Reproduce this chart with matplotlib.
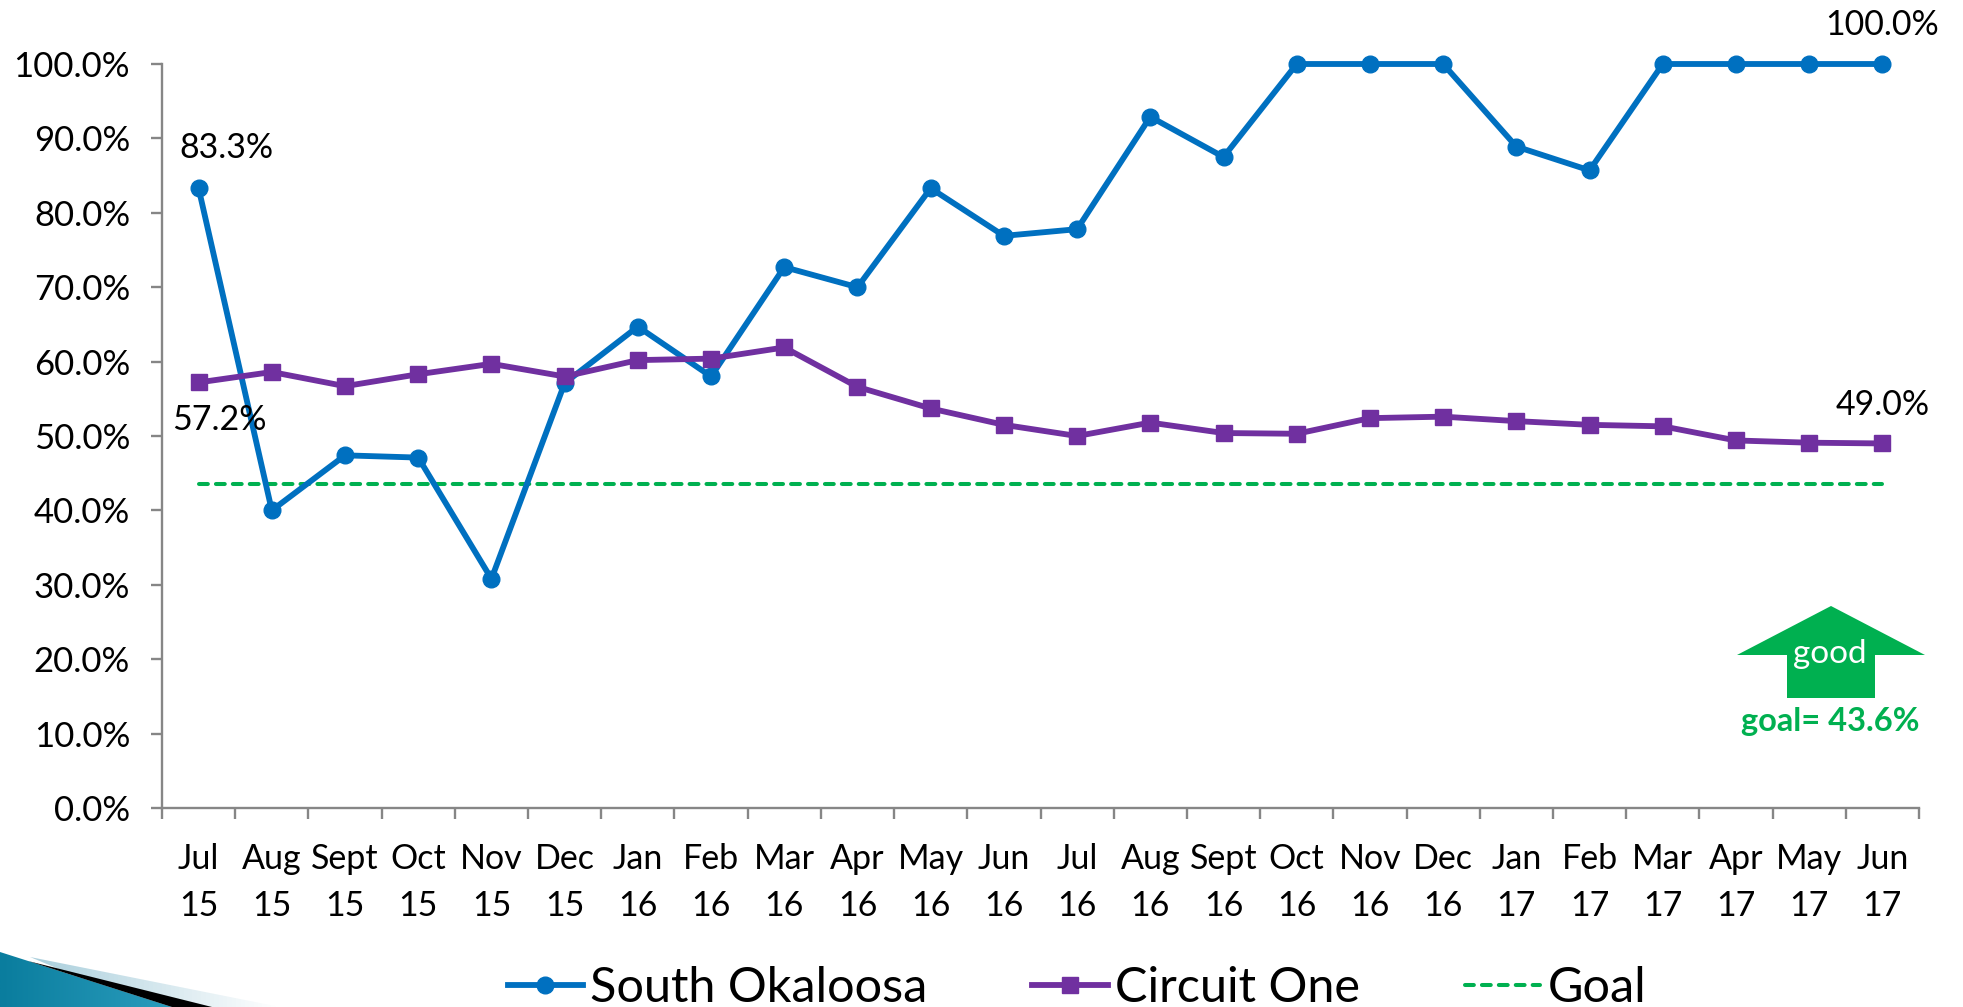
import numpy as np
import matplotlib
matplotlib.use("Agg")
import matplotlib.pyplot as plt
from matplotlib.colors import LinearSegmentedColormap
from matplotlib.lines import Line2D
from matplotlib.patches import Polygon

months = ["Jul", "Aug", "Sept", "Oct", "Nov", "Dec", "Jan", "Feb", "Mar", "Apr", "May", "Jun",
          "Jul", "Aug", "Sept", "Oct", "Nov", "Dec", "Jan", "Feb", "Mar", "Apr", "May", "Jun"]
years = ["15", "15", "15", "15", "15", "15", "16", "16", "16", "16", "16", "16",
         "16", "16", "16", "16", "16", "16", "17", "17", "17", "17", "17", "17"]
south_okaloosa = [83.3, 40.0, 47.4, 47.1, 30.8, 57.1, 64.7, 58.0, 72.7, 70.0, 83.3, 76.9,
                  77.8, 92.9, 87.5, 100.0, 100.0, 100.0, 88.9, 85.7, 100.0, 100.0, 100.0, 100.0]
circuit_one = [57.2, 58.6, 56.7, 58.3, 59.7, 58.0, 60.2, 60.4, 61.9, 56.6, 53.7, 51.5,
               50.0, 51.8, 50.4, 50.3, 52.4, 52.6, 52.0, 51.5, 51.3, 49.4, 49.1, 49.0]
goal = [43.6] * 24
y_ticks = [0, 10, 20, 30, 40, 50, 60, 70, 80, 90, 100]

BLUE = "#0070C0"
PURPLE = "#7030A0"
GREEN = "#00B050"
GRAY = "#868686"
W, H = 1963, 1007

plt.rcParams["font.family"] = ["Lato", "DejaVu Sans"]

fig = plt.figure(figsize=(W / 100, H / 100), dpi=100, facecolor="white")
ax = fig.add_axes([162 / W, 1 - 808 / H, (1919 - 162) / W, (808 - 64) / H])
x = np.arange(24) + 0.5

ax.plot(x, goal, color=GREEN, lw=2.9, dashes=(2.2, 2.0), dash_capstyle="round", zorder=2)
ax.plot(x, south_okaloosa, color=BLUE, lw=4.2, marker="o", ms=12, zorder=3, clip_on=False)
ax.plot(x, circuit_one, color=PURPLE, lw=4.2, marker="s", ms=11.5, zorder=4, clip_on=False)

ax.set_xlim(0, 24)
ax.set_ylim(0, 100)
for s in ["top", "right"]:
    ax.spines[s].set_visible(False)
for s in ["left", "bottom"]:
    ax.spines[s].set_color(GRAY)
    ax.spines[s].set_linewidth(1.7)

ax.set_yticks(y_ticks)
ax.set_yticklabels([f"{v:.1f}%" for v in y_ticks], fontsize=25, color="black")
ax.tick_params(axis="y", length=8, width=1.7, color=GRAY, pad=15)
ax.set_xticks(np.arange(25))
ax.set_xticklabels([])
ax.tick_params(axis="x", length=8, width=1.7, color=GRAY)
for i in range(24):
    ax.text(x[i], -6.9, months[i], ha="center", va="center", fontsize=24.5, color="black")
    ax.text(x[i], -13.2, years[i], ha="center", va="center", fontsize=24.5, color="black")

# value labels, offset in points from the point they describe
ax.annotate("83.3%", (x[0], south_okaloosa[0]), xytext=(20, 29), textcoords="offset points",
            ha="center", va="center", fontsize=24.5)
ax.annotate("57.2%", (x[0], circuit_one[0]), xytext=(15, -27), textcoords="offset points",
            ha="center", va="center", fontsize=24.5)
ax.annotate("100.0%", (x[-1], south_okaloosa[-1]), xytext=(0, 28), textcoords="offset points",
            ha="center", va="center", fontsize=24.5, annotation_clip=False)
ax.annotate("49.0%", (x[-1], circuit_one[-1]), xytext=(0, 28), textcoords="offset points",
            ha="center", va="center", fontsize=24.5)

handles = [
    Line2D([], [], color=BLUE, lw=4.2, marker="o", ms=12),
    Line2D([], [], color=PURPLE, lw=4.2, marker="s", ms=11.5),
    Line2D([], [], color=GREEN, lw=2.9, dashes=(2.2, 2.0), dash_capstyle="round"),
]
fig.legend(handles, ["South Okaloosa", "Circuit One", "Goal"], loc="center",
           bbox_to_anchor=(1077 / W, 1 - 988 / H), ncol=3, frameon=False, fontsize=35,
           handlelength=1.55, handletextpad=0.15, columnspacing=2.16)

# overlay in picture pixels for the arrow and the corner ornament
over = fig.add_axes([0, 0, 1, 1], facecolor="none")
over.set_xlim(0, W)
over.set_ylim(H, 0)
over.axis("off")

over.add_patch(Polygon([(1831, 606), (1925, 655), (1875, 655), (1875, 698), (1787, 698), (1787, 655), (1737, 655)],
                       closed=True, fc=GREEN, ec="none"))
over.text(1830, 654, "good", color="white", fontsize=24, ha="center", va="center")
over.text(1830, 722, "goal= 43.6%", color=GREEN, fontsize=23.5, fontweight="bold", ha="center", va="center")

grad = np.linspace(0, 1, 64).reshape(1, -1)
fade_cmap = LinearSegmentedColormap.from_list("fade", ["#9fc9d8", "#ffffff"])
teal_cmap = LinearSegmentedColormap.from_list("teal", ["#0a7d9e", "#2b9dbd"])
light = over.imshow(grad, extent=(0, 280, H, 950), cmap=fade_cmap, aspect="auto", zorder=1)
light.set_clip_path(Polygon([(30, 957), (280, H), (150, H)], transform=over.transData))
teal = over.imshow(grad, extent=(0, 175, H, 950), cmap=teal_cmap, aspect="auto", zorder=2)
teal.set_clip_path(Polygon([(0, 952), (172, H), (0, H)], transform=over.transData))
over.add_patch(Polygon([(28, 961), (212, H), (172, H)], closed=True, fc="black", ec="none", zorder=3))
over.set_xlim(0, W)
over.set_ylim(H, 0)

fig.savefig("out.png", dpi=100)
